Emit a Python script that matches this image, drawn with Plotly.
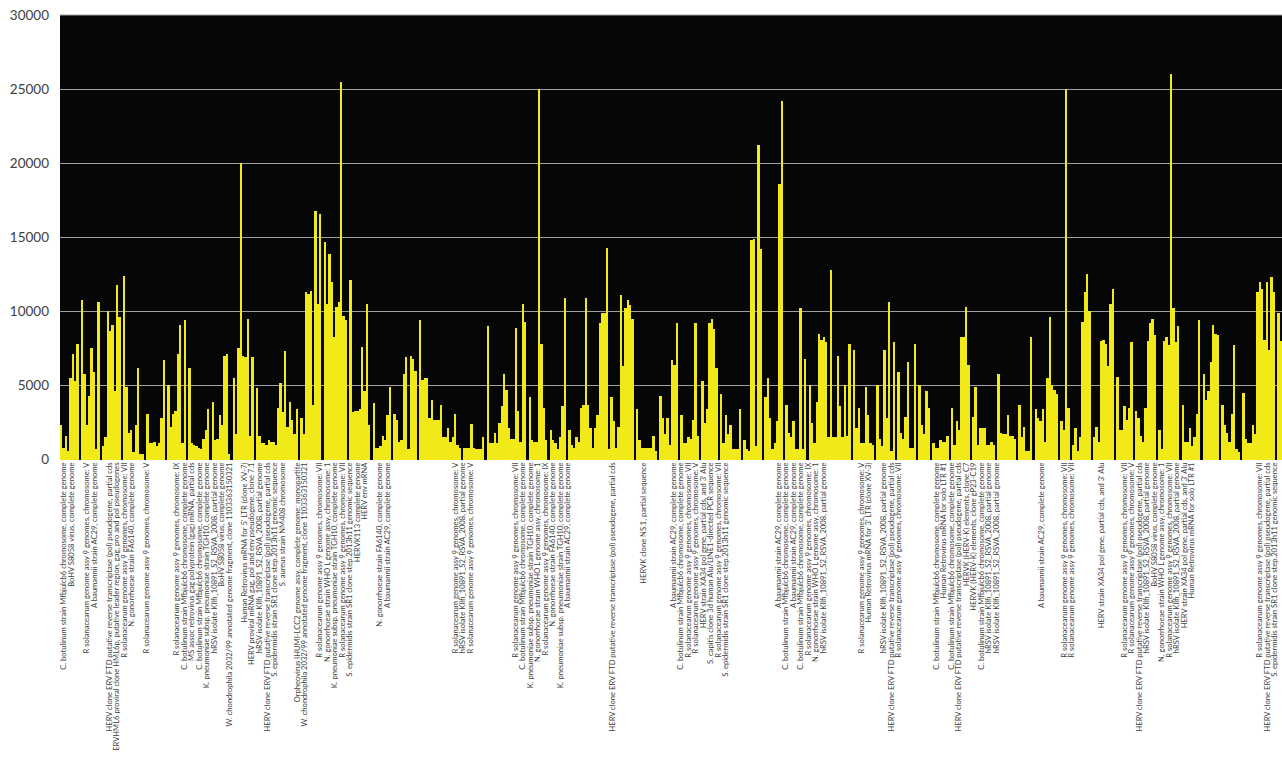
import plotly.graph_objects as go

# ---- bar values, left to right ----
seg_a = [2300, 800, 1600, 600, 5500, 7100, 5300, 7800, 0, 10800, 5800, 2300, 4300, 7500, 5900, 700,
         10600, 0, 900, 1500, 10000, 8700, 9100, 4600, 11800, 9600, 0, 12400, 4900, 1800, 2000, 500,
         2300, 6200, 400, 400, 0, 3100, 1100, 1100, 1200, 900, 1100, 2800, 6700, 0, 5000, 2200, 3100,
         3300, 7100, 9100, 1100, 9400, 0, 6200, 1100, 1000, 900, 800, 700, 1400, 2000, 3400, 0,
         3900, 1300, 1400, 3000]
seg_b = [2300, 7000, 7100, 400, 0, 5500, 1700, 7500, 20000, 7000, 6900, 9500, 1600, 6900, 0, 4800,
         1600, 1100, 1100, 1000, 1300, 1200, 1200, 1000, 3500, 5200, 3200, 7300, 2200, 3900, 2700, 1700,
         3400, 0, 2800, 1700, 11300, 11200, 11400, 3700, 16800, 10500, 16600, 0, 14700, 10500, 13900,
         12000, 8300, 10300, 10600, 25500, 9700, 9400, 0, 12100, 3200, 3300, 3300, 3400, 7600, 4600,
         10500, 2300, 0, 3800, 800, 800, 900, 1600, 1300, 3000, 4900, 0, 3100, 2700, 1200, 1300, 5800,
         6900, 700, 7000, 6800, 6000, 0, 9400, 5400, 5500, 5500, 2800]
seg_c = [4000, 2700, 2700, 2700, 3700, 1500, 1500, 2100, 1200, 1500, 3100, 1000, 800, 0, 800, 800,
         800, 2400, 800, 700, 700, 700, 1500, 0, 9000, 1100, 1100, 1800, 1100, 2500, 3600, 5800, 4700,
         2100, 1400, 1400, 8900, 3300, 1200, 10500, 9300, 0, 4200, 1300, 1200, 1200, 25000, 7800, 3500,
         1300, 0, 2000, 1300, 1100, 700, 1500, 3600, 10900, 0, 2000, 950, 800, 1500, 1200, 3500, 3700,
         10900, 3700, 2100, 800, 2100, 3000, 9200, 9900, 9900, 14300, 700, 4200, 2600, 800, 2200,
         11100, 6300, 10200, 10800, 10400, 9500, 0, 3400, 1300]
seg_d = [800, 800, 800, 800, 800, 1600, 550, 0, 4300, 2800, 1700, 2800, 1000, 6700, 6400, 9200, 0,
         3000, 1100, 1100, 1500, 1400, 2700, 9200, 1600, 0, 5300, 2500, 3400, 9200, 9500, 8800, 6200,
         0, 4400, 1100, 3000, 1700, 2300, 700, 700, 700, 3400, 0, 1300, 700, 600, 14800, 14900, 900,
         21200, 14200, 0, 4200, 5500, 2800, 700, 1100, 2600, 18600, 24200, 0, 3700, 1800, 1500, 2600,
         700, 700, 10200, 700, 6800, 0, 5000, 2500, 1100, 3900, 8500, 8100, 8300, 7900, 1500, 12800,
         1500, 1500, 7000, 3600, 1500, 5000, 1600, 7800]
seg_e = [0, 7400, 2100, 3500, 1100, 1100, 4900, 3000, 1100, 1000, 0, 5000, 1400, 900, 7400, 2800,
         10600, 600, 7900, 0, 5900, 1800, 1400, 2900, 6600, 800, 800, 7800, 0, 5000, 2300, 1700, 4600,
         3500, 0, 1100, 800, 800, 1300, 1200, 1200, 1600, 0, 3500, 1000, 2600, 2000, 8300, 8300, 10300,
         6400, 0, 2900, 4900, 1000, 2100, 2100, 2100, 1000, 1000, 1200, 1000, 0, 5800, 1800, 1700, 1700,
         3000, 1600, 1600, 1400, 0, 3700, 1500, 2200, 600, 600, 8300, 0, 3400, 2800, 2600, 3400, 1200,
         5500, 9600, 5000, 4700, 4400, 0]
seg_f = [2600, 2000, 25000, 3500, 0, 1000, 2100, 600, 1500, 9300, 11300, 12500, 10000, 0, 1500, 2200,
         1200, 8000, 8100, 7800, 6300, 10500, 11500, 0, 5600, 2000, 2000, 3600, 2700, 3500, 7900, 0,
         3300, 2800, 1600, 1200, 3500, 8000, 9200, 9500, 8400, 0, 2000, 700, 8000, 8300, 7700, 26000,
         10200, 7900, 9000, 0, 3700, 1200, 1200, 2100, 900, 1500, 3100, 9400, 0, 5800, 4000, 4600, 6600,
         9100, 8500, 8400, 0, 3700, 2300, 1800, 1200, 3100, 7700, 700, 500, 0, 4500, 1400, 1100, 1100,
         2300, 1700, 11300, 12000, 11500, 8100, 12000, 7400, 12300, 11300, 0, 9900, 8000]

# ---- y-axis ticks ----
y_ticks = [0, 5000, 10000, 15000, 20000, 25000, 30000]
y_tick_text = ["0", "5000", "10000", "15000", "20000", "25000", "30000"]

# ---- category tick labels (one label slot every few bars; '' = no label shown) ----
CB = "C. botulinum strain Mfbjulcb6 chromosome, complete genome"
BO = "BoHV S8058 virus, complete genome"
R5 = "R solanacearum genome assy 9 genomes, chromosome: V"
R7 = "R solanacearum genome assy 9 genomes, chromosome: VII"
R9 = "R solanacearum genome assy 9 genomes, chromosome: IX"
AB = "A baumannii strain AC29, complete genome"
HF = "HERV clone ERV FTD putative reverse transcriptase (pol) pseudogene, partial cds"
EM = "ERVHML6 proviral clone HML6p, putative leader region, gag, pro and pol pseudogenes"
NF = "N. gonorrhoeae strain FA6140, complete genome"
NW = "N. gonorrhoeae strain WHO L genome assy, chromosome: 1"
MS = "MS assoc retrovirus gag polyprotein (gag) mRNA, partial cds"
KP = "K. pneumoniae subsp. pneumoniae strain TGH10, complete genome"
HR = "hRSV isolate KIlfi_10891_S2_RSVA_2008, partial genome"
WC = "W. chondrophila 2032/99 annotated genome fragment, clone 1103363150321"
H5 = "Human Retrovirus mRNA for 5' LTR (clone XV-7)"
HP = "HERV proviral mRNA gag, pol and env pseudogene, clone 7.1"
SE = "S. epidermidis strain SR1 clone step.2013h11 genomic sequence"
SA = "S. aureus strain NM408 chromosome"
OR = "Orpheovirus IHUMI-LCC2 genome assy, complete genome: monopartite"
HK = "HERVK113 complete genome"
HE = "HERV env mRNA"
NS = "HERVK clone NS.1, partial sequence"
XA = "HERV strain XA34 pol gene, partial cds, and 3' Alu"
SC = "S. capitis clone 3d human Alu/LINE1-directed PCR sequence"
H3 = "Human Retrovirus mRNA for 3' LTR (clone XV-3)"
HS = "Human Retrovirus mRNA for solo LTR #1"
C7 = "HERVK (HERV-K) elements, clone C7"
C19 = "HERVK (HERV-K) elements, clone gP23-C19"
_ = ""

tick_labels = [
    CB, BO, _, R5, AB, _, HF, EM, R7, NF,        # 0-9
    _, R5, _, _, _, R9, CB, MS, CB, KP,          # 10-19
    HR, BO, WC, _, H5, HP, HR, HF, SE, SA,       # 20-29
    _, OR, WC, _, R7, NW, KP, R7, SE, HK,        # 30-39
    HE, _, NF, AB, _, _, _, _, _, _,             # 40-49
    _, _, R5, HR, R5, _, _, _, _, _,             # 50-59
    R7, CB, KP, NW, R9, NF, KP, AB, _, _,        # 60-69
    _, _, _, HF, _, _, _, NS, _, _,              # 70-79
    _, AB, CB, R7, R5, XA, SC, R7, SE, _,        # 80-89
    _, _, _, _, _, AB, CB, AB, CB, R9,           # 90-99
    NW, HR, _, _, _, _, R5, H3, _, HR,           # 100-109
    HF, R7, _, _, _, _, CB, HS, CB, HF,          # 110-119
    C7, C19, CB, HR, HR, _, _, _, _, _,          # 120-129
    AB, _, _, R7, R7, _, _, _, XA, _,            # 130-139
    _, R7, R5, HF, HR, BO, NW, R7, HR, XA,       # 140-149
    HS, _, _, _, _, _, _, _, _, R7,              # 150-159
    HF, SE,                                      # 160-161
]

values = seg_a + seg_b + seg_c + seg_d + seg_e + seg_f
n = len(values)
xs = list(range(n))

# layout geometry (px)
PLOT_W = 1222
bar_px = PLOT_W / n
LABEL_START_PX = 4.0      # first label centre, px right of plot's left edge
LABEL_STEP_PX = 7.52      # spacing of label slots in px
tickvals = [(LABEL_START_PX + k * LABEL_STEP_PX) / bar_px - 0.5 for k in range(len(tick_labels))]

fig = go.Figure(go.Bar(
    x=xs, y=values,
    marker=dict(color="#f2ea18", line=dict(width=0)),
    hoverinfo="y",
))

fig.update_layout(
    width=1282, height=764,
    margin=dict(l=60, r=0, t=15, b=304, autoexpand=False),
    paper_bgcolor="white",
    plot_bgcolor="#060606",
    bargap=0,
    showlegend=False,
    font=dict(family="Lato, 'Open Sans', sans-serif", color="#404040"),
    shapes=[dict(type="line", xref="paper", yref="paper", x0=0, x1=1, y0=1, y1=1,
                 line=dict(color="#a0a0a0", width=1))],
)
fig.update_xaxes(
    range=[-0.5, n - 0.5],
    tickmode="array", tickvals=tickvals, ticktext=tick_labels,
    tickangle=-90, tickfont=dict(size=7.6, color="#404040"),
    showgrid=False, zeroline=False, showline=False, ticks="",
    automargin=False,
)
fig.update_yaxes(
    range=[-30, 30000],
    tickmode="array", tickvals=y_ticks, ticktext=y_tick_text,
    showgrid=True, gridcolor="#a0a0a0", gridwidth=1,
    zeroline=False, showline=False, ticks="",
    tickfont=dict(size=13.5, color="#404040"),
    ticklabelstandoff=10, ticklabeloverflow="allow",
    automargin=False,
)

fig.write_html("out.html", config={"displayModeBar": False},
               post_script="document.body.style.margin='0px';")
